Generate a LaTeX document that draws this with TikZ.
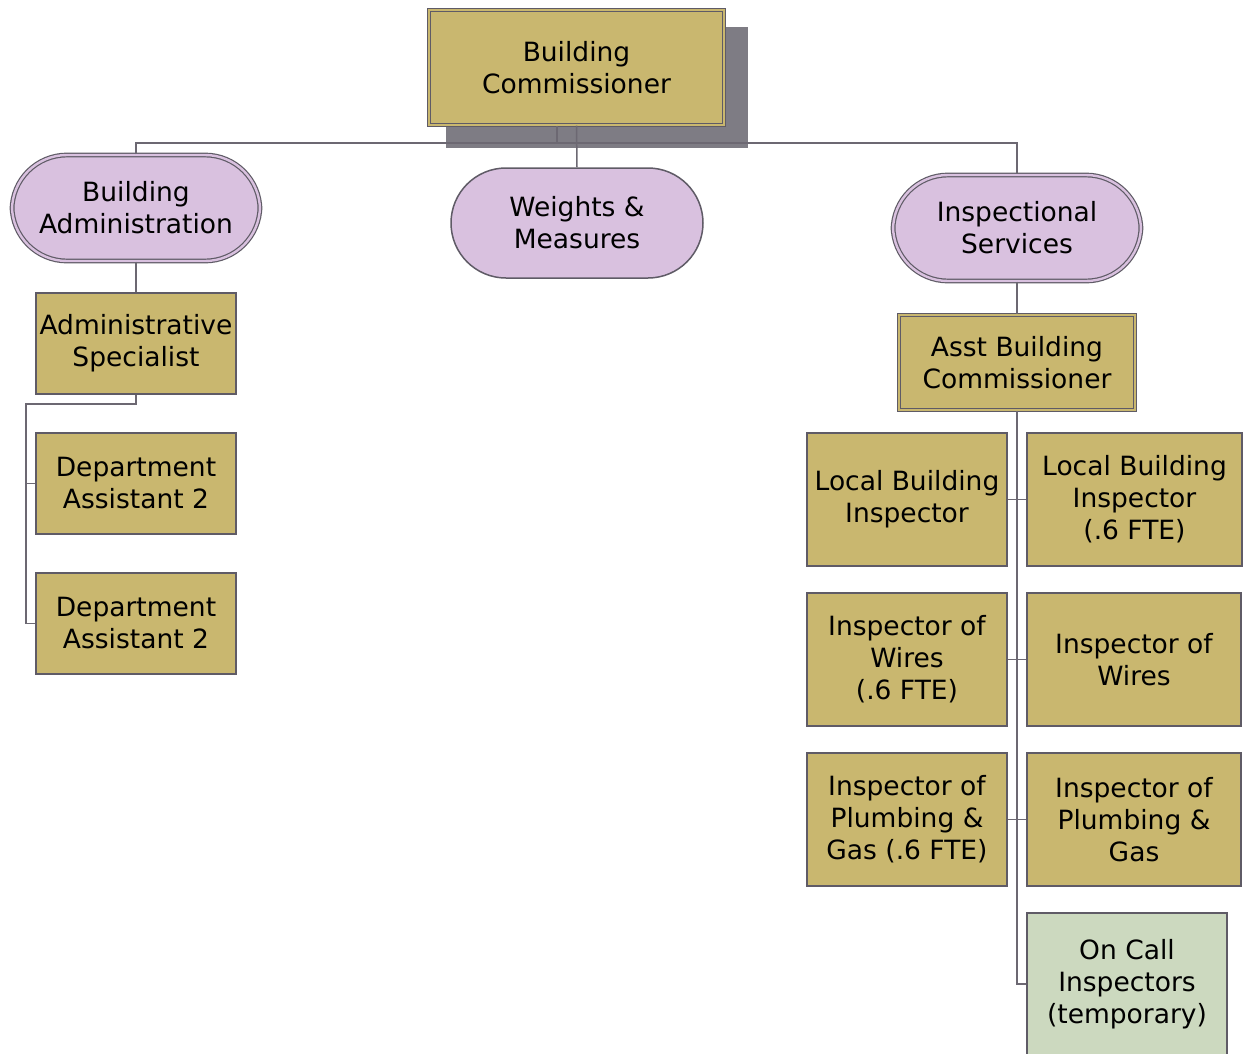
\documentclass[tikz,border=0pt]{standalone}
\usepackage{fontspec}
\setmainfont{DejaVu Sans}
\begin{document}
\definecolor{gold}{HTML}{C9B76F}
\definecolor{lilac}{HTML}{D9C1DF}
\definecolor{sage}{HTML}{CCD9BF}
\definecolor{edge}{HTML}{5F5B66}
\definecolor{dropgray}{HTML}{7E7C84}
\definecolor{wire}{HTML}{6C6872}
\begin{tikzpicture}[x=1pt,y=-1pt,
  base/.style={draw=edge,line width=1.5pt,align=center,inner sep=0pt,
    font=\fontsize{26.5}{32}\selectfont},
  post/.style={base,rectangle,fill=gold,minimum width=200pt,minimum height=101pt},
  tallpost/.style={post,minimum height=133pt},
  dbl/.style={line width=1.2pt,double=#1,double distance=2.4pt},
  unit/.style={base,fill=lilac,rounded corners=55pt,minimum width=252pt,minimum height=110pt},
  link/.style={draw=wire,line width=1.5pt}]
\useasboundingbox (0,0) rectangle (1243,1053);
\clip (0,0) rectangle (1243,1053);

% drop shadow behind the top box
\fill[dropgray] (446,27) rectangle (748,148);

% top of the chart
\node[post,dbl=gold,minimum width=295pt,minimum height=115pt] (bc) at (576.5,67.5) {Building\\Commissioner};

% divisions
\node[unit,dbl=lilac,minimum width=248pt,minimum height=106pt] (ba) at (136,208) {Building\\Administration};
\node[unit] (wm) at (577,223) {Weights \&\\Measures};
\node[unit,dbl=lilac,minimum width=248pt,minimum height=106pt] (is) at (1017,228) {Inspectional\\Services};

% administration branch
\node[post] (as) at (136,343.5) {Administrative\\Specialist};
\node[post] (da1) at (136,483.5) {Department\\Assistant 2};
\node[post] (da2) at (136,623.5) {Department\\Assistant 2};

% inspection branch
\node[post,dbl=gold,minimum width=236pt,minimum height=95pt] (abc) at (1017,362.5) {Asst Building\\Commissioner};
\node[tallpost] (lbi1) at (907,499.5) {Local Building\\Inspector};
\node[tallpost,minimum width=215pt] (lbi2) at (1134.5,499.5) {Local Building\\Inspector\\(.6 FTE)};
\node[tallpost] (iw1) at (907,659.5) {Inspector of\\Wires\\(.6 FTE)};
\node[tallpost,minimum width=214pt] (iw2) at (1134,659.5) {Inspector of\\Wires};
\node[tallpost] (ipg1) at (907,819.5) {Inspector of\\Plumbing \&\\Gas (.6 FTE)};
\node[tallpost,minimum width=214pt] (ipg2) at (1134,819.5) {Inspector of\\Plumbing \&\\Gas};
\node[post,fill=sage,minimum height=142pt] (oci) at (1127,984) {On Call\\Inspectors\\(temporary)};

% connectors from the top
\coordinate (hub) at (576.5,143);
\draw[link] ([xshift=-19.5pt]bc.south) -- ([xshift=-19.5pt]bc.south |- hub);
\draw[link] (bc.south) -- (wm.north);
\draw[link] (ba.north) |- (hub) -| (is.north);

% administration connectors
\coordinate (lb) at (26,404);
\draw[link] (ba.south) -- (as.north);
\draw[link] (as.south) |- (lb) |- (da1.west);
\draw[link] (lb) |- (da2.west);

% inspection connectors
\draw[link] (is.south) -- (abc.north);
\draw[link] (abc.south) |- (oci.west);
\draw[link] (lbi1.east) -- (lbi2.west);
\draw[link] (iw1.east) -- (iw2.west);
\draw[link] (ipg1.east) -- (ipg2.west);
\end{tikzpicture}
\end{document}
